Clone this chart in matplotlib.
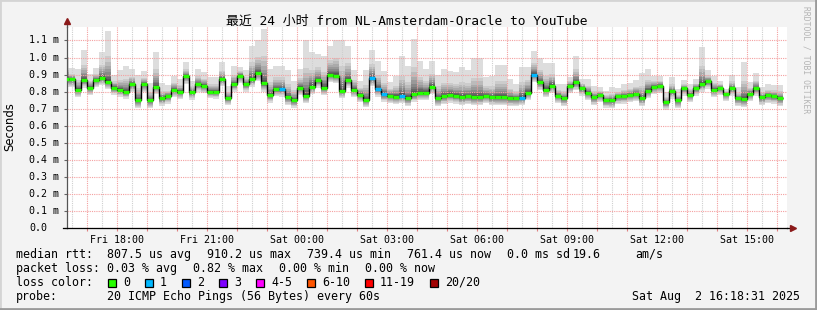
import numpy as np
import matplotlib
matplotlib.use("Agg")
import matplotlib.pyplot as plt
from matplotlib.patches import Rectangle
from matplotlib import transforms

plt.rcParams['font.family'] = ['DejaVu Sans Mono', 'Noto Sans CJK SC']

## data (ms), one value per 12 minute step, hours counted from Fri 00:00
start_hour = 16.21
step_hours = 0.2

median = [0.873, 0.873, 0.812, 0.867, 0.824, 0.869, 0.882, 0.859, 0.824, 0.812,
          0.800, 0.843, 0.749, 0.843, 0.749, 0.829, 0.761, 0.773, 0.812, 0.800,
          0.890, 0.800, 0.843, 0.835, 0.800, 0.800, 0.873, 0.761, 0.843, 0.894,
          0.843, 0.873, 0.908, 0.849, 0.778, 0.814, 0.814, 0.767, 0.749, 0.824,
          0.776, 0.829, 0.867, 0.824, 0.900, 0.894, 0.806, 0.867, 0.812, 0.782,
          0.753, 0.878, 0.814, 0.784, 0.776, 0.771, 0.776, 0.761, 0.784, 0.794,
          0.794, 0.829, 0.761, 0.773, 0.782, 0.776, 0.767, 0.773, 0.767, 0.767,
          0.776, 0.767, 0.767, 0.767, 0.761, 0.761, 0.765, 0.794, 0.900, 0.855,
          0.812, 0.835, 0.776, 0.761, 0.835, 0.855, 0.820, 0.794, 0.767, 0.782,
          0.749, 0.749, 0.773, 0.773, 0.782, 0.788, 0.761, 0.806, 0.829, 0.835,
          0.737, 0.802, 0.749, 0.820, 0.782, 0.820, 0.843, 0.861, 0.812, 0.824,
          0.788, 0.820, 0.761, 0.755, 0.788, 0.820, 0.767, 0.778, 0.773, 0.761]

ping_min = [0.828, 0.826, 0.766, 0.822, 0.780, 0.826, 0.836, 0.815, 0.782, 0.770,
            0.758, 0.798, 0.702, 0.797, 0.703, 0.786, 0.718, 0.730, 0.768, 0.757,
            0.845, 0.752, 0.800, 0.792, 0.760, 0.758, 0.830, 0.720, 0.800, 0.850,
            0.800, 0.828, 0.860, 0.800, 0.735, 0.772, 0.770, 0.722, 0.705, 0.780,
            0.733, 0.785, 0.822, 0.780, 0.855, 0.850, 0.762, 0.822, 0.768, 0.738,
            0.710, 0.832, 0.770, 0.740, 0.732, 0.728, 0.732, 0.716, 0.740, 0.750,
            0.750, 0.785, 0.714, 0.728, 0.736, 0.730, 0.722, 0.728, 0.720, 0.722,
            0.731, 0.722, 0.720, 0.720, 0.716, 0.715, 0.720, 0.750, 0.856, 0.810,
            0.768, 0.790, 0.732, 0.716, 0.790, 0.810, 0.776, 0.750, 0.722, 0.738,
            0.705, 0.704, 0.728, 0.729, 0.738, 0.744, 0.716, 0.762, 0.785, 0.790,
            0.694, 0.758, 0.704, 0.776, 0.738, 0.776, 0.800, 0.818, 0.768, 0.780,
            0.744, 0.776, 0.716, 0.710, 0.744, 0.776, 0.722, 0.734, 0.730, 0.716]

ping_max = [1.002, 0.937, 0.930, 1.047, 0.905, 0.941, 1.035, 1.153, 0.897, 0.929,
            0.953, 0.931, 0.899, 0.919, 0.850, 1.031, 0.848, 0.840, 0.889, 0.875,
            0.973, 0.865, 0.935, 0.914, 0.888, 0.888, 0.973, 0.835, 0.953, 0.943,
            0.924, 1.070, 1.100, 1.170, 0.933, 0.953, 0.953, 0.924, 0.865, 0.933,
            1.105, 1.030, 1.020, 1.010, 1.070, 1.105, 1.100, 1.070, 0.924, 0.865,
            0.924, 1.045, 0.980, 0.920, 0.855, 0.894, 1.010, 0.953, 1.110, 0.980,
            0.933, 0.980, 0.900, 0.933, 0.920, 0.914, 0.947, 0.927, 0.998, 0.998,
            0.888, 0.894, 0.959, 0.959, 0.875, 0.845, 0.943, 0.943, 1.040, 0.998,
            0.967, 0.967, 0.845, 0.845, 0.884, 1.006, 0.875, 0.875, 0.835, 0.825,
            0.806, 0.825, 0.822, 0.845, 0.849, 0.869, 0.908, 0.933, 0.892, 0.894,
            0.800, 0.884, 0.816, 0.869, 0.845, 0.875, 1.060, 0.929, 0.894, 0.865,
            0.816, 0.900, 0.825, 0.973, 0.855, 0.908, 0.829, 0.845, 0.841, 0.841]

# lost pings per step
loss = [0] * 120
for i in [36, 51, 52, 53, 56, 76, 78]:
    loss[i] = 1

loss_labels = ['0', '1', '2', '3', '4-5', '6-10', '11-19', '20/20']
loss_colors = ['#26ff00', '#00b8ff', '#0059ff', '#7e00ff', '#ff00ff',
               '#ff5500', '#ff0000', '#a00000']

yticks = [0.0, 0.1, 0.2, 0.3, 0.4, 0.5, 0.6, 0.7, 0.8, 0.9, 1.0, 1.1]
xlabel_hours = [18, 21, 24, 27, 30, 33, 36, 39]
xlabel_text = ['Fri 18:00', 'Fri 21:00', 'Sat 00:00', 'Sat 03:00',
               'Sat 06:00', 'Sat 09:00', 'Sat 12:00', 'Sat 15:00']

title = '最近 24 小时 from NL-Amsterdam-Oracle to YouTube'
rtt_stats = [('807.5 us avg', 107), ('910.2 us max', 207), ('739.4 us min', 307),
             ('761.4 us now', 407), ('0.0 ms sd', 507), ('19.6', 573), ('am/s', 635)]
loss_stats = [('0.03 % avg', 107), ('0.82 % max', 193), ('0.00 % min', 279),
              ('0.00 % now', 365)]
probe_text = '20 ICMP Echo Pings (56 Bytes) every 60s'
stamp = 'Sat Aug  2 16:18:31 2025'

## figure
W, H = 817, 310
fig = plt.figure(figsize=(W / 100, H / 100), dpi=100, facecolor='#f3f3f3')
ax = fig.add_axes([67 / W, 1 - 228 / H, 720 / W, 201 / H])
ax.set_facecolor('white')

med = np.array(median)
lo = np.array(ping_min)
hi = np.array(ping_max)
edges = start_hour + step_hours * np.arange(len(med) + 1)

# smoke: outer pings light, inner ones darker
g_up = [1.0, 0.5, 0.4, 0.32, 0.25, 0.19, 0.14, 0.1, 0.06, 0.03]
g_lo = [1.0, 0.82, 0.68, 0.56, 0.45, 0.36, 0.27, 0.19, 0.12, 0.06]
shades = [0xdd, 0xcc, 0xbb, 0xaa, 0x99, 0x88, 0x77, 0x66, 0x55, 0x44]
for gu, gl, s in zip(g_up, g_lo, shades):
    top = med + (hi - med) * gu
    bot = med - (med - lo) * gl
    ax.stairs(top, edges, baseline=bot, fill=True, color='#%02x%02x%02x' % (s, s, s),
              lw=0, zorder=1)

ax.stairs(med, edges, baseline=None, color='black', lw=1.0, zorder=2)
seg_colors = [loss_colors[min(l, 7)] for l in loss]
ax.hlines(med, edges[:-1], edges[1:], colors=seg_colors, lw=2.4, zorder=3)

ax.set_xlim(16.343, 40.343)
ax.set_ylim(0, 1.179)

# grid
ax.set_xticks(np.arange(17, 41, 1))
ax.set_xticks(np.arange(16.5, 40.5, 1), minor=True)
ax.set_xticklabels([xlabel_text[xlabel_hours.index(h)] if h in xlabel_hours else ''
                    for h in range(17, 41)], fontsize=7.2)
ax.set_yticks(yticks)
ax.set_yticklabels([])
ax.grid(which='major', color='#f4a0a0', linestyle=(0, (1, 1)), lw=0.8)
ax.grid(which='minor', axis='x', color='#cfcfcf', linestyle=(0, (1, 1)), lw=0.8)
ax.tick_params(axis='x', which='major', length=2, pad=3, color='#e08080')
ax.tick_params(axis='x', which='minor', length=0)
ax.tick_params(axis='y', length=2, color='#666666')

for side in ['top', 'right']:
    ax.spines[side].set_visible(False)
ax.spines['left'].set_color('#555555')
ax.spines['bottom'].set_color('black')
ax.spines['left'].set_linewidth(0.9)
ax.spines['bottom'].set_linewidth(0.9)
ax.plot([0, 0], [1, 1.02], color='#555555', lw=0.9, transform=ax.transAxes, clip_on=False)
ax.plot([1, 1.006], [0, 0], color='black', lw=0.9, transform=ax.transAxes, clip_on=False)
ax.plot([-0.006, 0], [0, 0], color='black', lw=0.9, transform=ax.transAxes, clip_on=False)
ax.plot([0], [1.03], marker='^', ms=4.5, color='#8b1a1a', transform=ax.transAxes, clip_on=False)
ax.plot([1.008], [0], marker='>', ms=4.5, color='#8b1a1a', transform=ax.transAxes, clip_on=False)

# y tick labels, left aligned like rrdtool
ytrans = transforms.blended_transform_factory(fig.transFigure, ax.transData)
for v in yticks:
    lab = '%.1f m' % v if v > 0 else '0.0'
    ax.text(29 / W, v, lab, transform=ytrans, ha='left', va='center', fontsize=7.2)

# texts
def ftext(x, y, s, **kw):
    kw.setdefault('fontsize', 8.4)
    kw.setdefault('va', 'center')
    return fig.text(x / W, 1 - y / H, s, **kw)

ftext(407, 21, title, ha='center', fontsize=9.3)
ftext(10, 127, 'Seconds', rotation=90, ha='center', family='DejaVu Sans')
ftext(806, 60, 'RRDTOOL / TOBI OETIKER', rotation=270, ha='center',
      fontsize=5.8, color='#b4b4b4')

row_y = [254.3, 268.3, 282.3, 296.3]
ftext(16, row_y[0], 'median rtt:')
for s, x in rtt_stats:
    ftext(x, row_y[0], s)
ftext(16, row_y[1], 'packet loss:')
for s, x in loss_stats:
    ftext(x, row_y[1], s)
ftext(16, row_y[2], 'loss color:')
x = 108
for lab, col in zip(loss_labels, loss_colors):
    fig.patches.append(Rectangle((x / W, 1 - 286.5 / H), 8 / W, 8 / H,
                                 transform=fig.transFigure, facecolor=col,
                                 edgecolor='black', lw=0.9))
    ftext(x + 15, row_y[2], lab)
    x = x + 15 + 7 * len(lab) + 15
ftext(16, row_y[3], 'probe:')
ftext(107, row_y[3], probe_text)
ftext(800, row_y[3], stamp, ha='right')

# frame
fig.patches.append(Rectangle((0, 0), 1, 1, transform=fig.transFigure, fill=False,
                             edgecolor='#d4d4d4', lw=2))
fig.add_artist(plt.Line2D([1 - 1 / W, 1 - 1 / W], [0, 1], color='#9a9a9a', lw=2,
                          transform=fig.transFigure))
fig.add_artist(plt.Line2D([0, 1], [1 / H, 1 / H], color='#9a9a9a', lw=2,
                          transform=fig.transFigure))

fig.savefig('out.png', dpi=100, facecolor=fig.get_facecolor())
